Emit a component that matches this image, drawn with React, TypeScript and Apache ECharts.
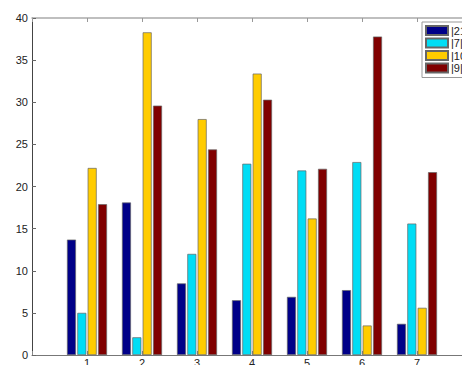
import React, { useEffect, useRef } from "react";
import * as echarts from "echarts";

const categories = ["1", "2", "3", "4", "5", "6", "7"];
const seriesNames = ["|21|", "|7|", "|10|", "|9|"];
const s21 = [13.7, 18.1, 8.5, 6.5, 6.9, 7.7, 3.7];
const s7 = [5.0, 2.1, 12.0, 22.7, 21.9, 22.9, 15.6];
const s10 = [22.2, 38.3, 28.0, 33.4, 16.2, 3.5, 5.6];
const s9 = [17.9, 29.6, 24.4, 30.3, 22.1, 37.8, 21.7];
const colors = ["#000088", "#00DDF5", "#FFCC00", "#800000"];
const yTicks = [0, 5, 10, 15, 20, 25, 30, 35, 40];

export default function App() {
  const ref = useRef<HTMLDivElement>(null);
  useEffect(() => {
    if (!ref.current) return;
    const chart = echarts.init(ref.current, null, { renderer: "svg" });
    // axis spans 0..8 with categories at 1..7
    const axisCats = ["", ...categories, ""];
    const pad = (arr: number[]) => [null, ...arr, null];
    const all = [s21, s7, s10, s9];
    chart.setOption({
      animation: false,
      backgroundColor: "#ffffff",
      textStyle: { fontFamily: "Liberation Sans, Arial, sans-serif" },
      grid: {
        left: 32,
        top: 18,
        width: 440,
        height: 337,
        containLabel: false,
        outerBoundsMode: "none",
      },
      legend: {
        orient: "vertical",
        left: 422,
        top: 22,
        itemWidth: 22,
        itemHeight: 9,
        itemGap: 1.5,
        padding: [3, 20, 4, 3],
        borderColor: "#999",
        borderWidth: 1,
        backgroundColor: "#fff",
        icon: "rect",
        textStyle: { fontSize: 11, lineHeight: 11, color: "#222", padding: [0, 0, 0, -2] },
        data: seriesNames,
      },
      xAxis: [
        {
          type: "category",
          data: axisCats,
          boundaryGap: false,
          position: "bottom",
          axisLine: { lineStyle: { color: "#777", width: 1 } },
          axisTick: { inside: true, length: 4, lineStyle: { color: "#888" } },
          axisLabel: { fontSize: 11, color: "#222", margin: 2, interval: 0 },
          splitLine: { show: false },
        },
        {
          type: "category",
          data: axisCats,
          boundaryGap: false,
          position: "top",
          axisLine: { lineStyle: { color: "#aaa", width: 1.5 } },
          axisTick: { inside: true, length: 4, lineStyle: { color: "#999" } },
          axisLabel: { show: false },
          splitLine: { show: false },
        },
      ],
      yAxis: {
        type: "value",
        min: 0,
        max: 40,
        interval: 5,
        axisLine: { show: true, lineStyle: { color: "#444", width: 1 } },
        axisTick: { show: true, inside: true, length: 4, lineStyle: { color: "#666" } },
        axisLabel: {
          fontSize: 11,
          color: "#222",
          margin: 4,
          formatter: (v: number) => (yTicks.includes(v) ? String(v) : ""),
        },
        splitLine: { show: false },
      },
      series: seriesNames.map((name, i) => ({
        name,
        type: "bar",
        xAxisIndex: 0,
        data: pad(all[i]),
        barWidth: 9,
        barGap: "15%",
        itemStyle: { color: colors[i], borderColor: "#666", borderWidth: 0.7 },
      })),
    });
    return () => chart.dispose();
  }, []);
  return (
    <div
      ref={ref}
      style={{ position: "fixed", left: 0, top: 0, width: 462, height: 365 }}
    />
  );
}
